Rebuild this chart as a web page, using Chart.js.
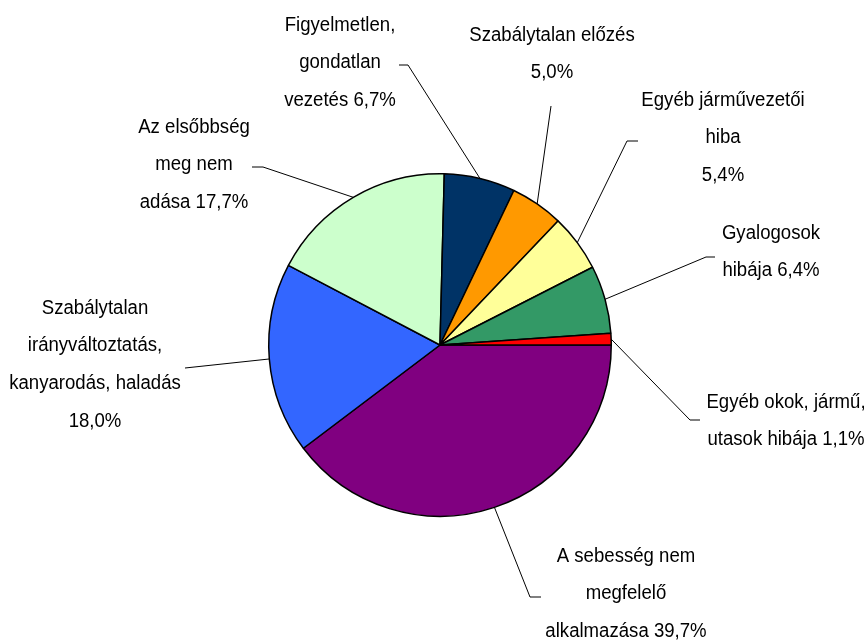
<!DOCTYPE html>
<html lang="hu">

<head>
  <meta charset="utf-8">
  <title>Balesetek okai</title>
  <script src="https://cdn.jsdelivr.net/npm/chart.js@4.4.1/dist/chart.umd.min.js"></script>
  <style>
    html, body { margin: 0; padding: 0; background: #fff; }
    #chart-pie { display: block; }
  </style>
</head>

<body>
  <canvas id="chart-pie" width="868" height="640"></canvas>

  <script>
    // adatok - {p} helyére kerül a százalék
    var categories = [
      ['A sebesség nem', 'megfelelő', 'alkalmazása {p}'],
      ['Szabálytalan', 'irányváltoztatás,', 'kanyarodás, haladás', '{p}'],
      ['Az elsőbbség', 'meg nem', 'adása {p}'],
      ['Figyelmetlen,', 'gondatlan', 'vezetés {p}'],
      ['Szabálytalan előzés', '{p}'],
      ['Egyéb járművezetői', 'hiba', '{p}'],
      ['Gyalogosok', 'hibája {p}'],
      ['Egyéb okok, jármű,', 'utasok hibája {p}']
    ];
    var values = [39.7, 18.0, 17.7, 6.7, 5.0, 5.4, 6.4, 1.1];
    var colors = ['#800080', '#3366ff', '#ccffcc', '#003366', '#ff9900', '#ffff99', '#339966', '#ff0000'];

    // feliratok helye a kör középpontjához képest: [szöveg x, első sor y, törés x, törés y, vég x, vég y]
    var labelLayout = [
      [186, 211, 90, 252, 101, 252],
      [-345, -37, -255, 23, -255, 23],
      [-246, -218, -177, -178, -188, -178],
      [-100, -320, -32, -280, -41, -280],
      [112, -310, 111, -239, 111, -239],
      [283, -245, 187, -204, 198, -204],
      [331, -112, 266, -88, 275, -88],
      [346, 57, 250, 75, 260, 75]
    ];

    function formatPct(v) {
      return v.toFixed(1).replace('.', ',') + '%';
    }

    var outsideLabels = {
      id: 'outsideLabels',
      afterDraw: function (chart) {
        var ctx = chart.ctx;
        var arcs = chart.getDatasetMeta(0).data;
        ctx.save();
        ctx.strokeStyle = '#000';
        ctx.lineWidth = 1;
        ctx.fillStyle = '#000';
        ctx.font = '20px "Liberation Sans", Arial, sans-serif';
        ctx.textAlign = 'center';
        ctx.textBaseline = 'middle';
        arcs.forEach(function (arc, i) {
          var p = arc.getProps(['x', 'y', 'startAngle', 'endAngle', 'outerRadius'], true);
          var mid = (p.startAngle + p.endAngle) / 2;
          var lay = labelLayout[i];
          // vezetővonal
          ctx.beginPath();
          ctx.moveTo(p.x + Math.cos(mid) * p.outerRadius, p.y + Math.sin(mid) * p.outerRadius);
          ctx.lineTo(p.x + lay[2], p.y + lay[3]);
          ctx.lineTo(p.x + lay[4], p.y + lay[5]);
          ctx.stroke();
          // szöveg
          var lines = chart.data.labels[i];
          var pct = formatPct(values[i]);
          lines.forEach(function (line, j) {
            var txt = line.replace('{p}', pct);
            ctx.save();
            ctx.translate(p.x + lay[0], p.y + lay[1] + j * 37.8);
            ctx.scale(0.93, 1);
            ctx.fillText(txt, 0, 0);
            ctx.restore();
          });
        });
        ctx.restore();
      }
    };

    new Chart(document.getElementById('chart-pie'), {
      type: 'pie',
      data: {
        labels: categories,
        datasets: [{
          data: values,
          backgroundColor: colors,
          borderColor: '#000',
          borderWidth: 1.5
        }]
      },
      options: {
        responsive: false,
        animation: false,
        rotation: 90,
        layout: {
          padding: { left: 268, right: 256, top: 173, bottom: 123 }
        },
        plugins: {
          legend: { display: false },
          tooltip: { enabled: false }
        }
      },
      plugins: [outsideLabels]
    });
  </script>
</body>

</html>
